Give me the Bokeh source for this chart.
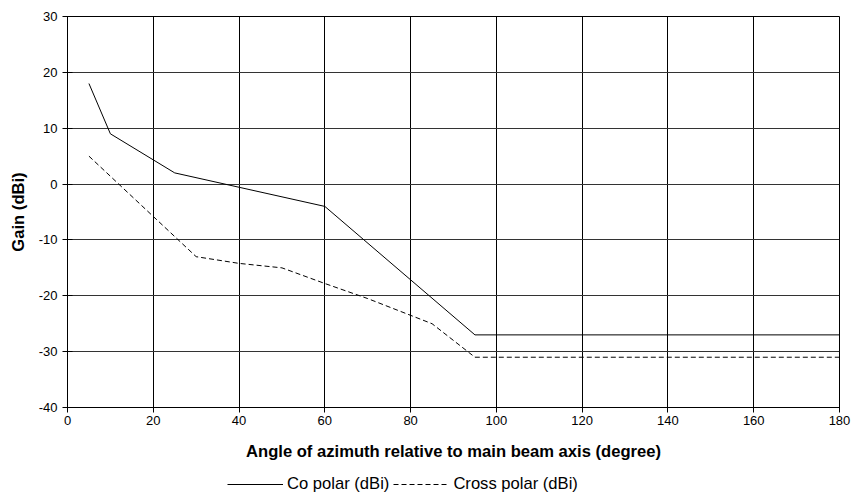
from bokeh.plotting import figure
from bokeh.layouts import column
from bokeh.models import Range1d, FixedTicker, Legend, LegendItem, PrintfTickFormatter
from bokeh.embed import file_html
from bokeh.resources import INLINE

# Data
co_angle = [5, 10, 25, 60, 95, 180]
co_gain = [18, 9, 2, -4, -27, -27]
cross_angle = [5, 30, 40, 50, 60, 70, 80, 85, 95, 180]
cross_gain = [5, -13, -14.2, -15, -17.8, -20.5, -23.5, -25, -31, -31]

x_ticks = [0, 20, 40, 60, 80, 100, 120, 140, 160, 180]
y_ticks = [-40, -30, -20, -10, 0, 10, 20, 30]

FONT = "Liberation Sans"
CO_STYLE = dict(line_color="black", line_width=1)
CROSS_STYLE = dict(line_color="black", line_width=1, line_dash="5 3")

p = figure(width=855, height=466, output_backend="svg", toolbar_location=None,
           x_range=Range1d(0, 180), y_range=Range1d(-40, 30),
           min_border_left=67, min_border_right=16, min_border_top=16, min_border_bottom=59)
p.background_fill_color = "white"
p.border_fill_color = "white"
p.outline_line_color = "black"
p.outline_line_width = 1

for ax in (p.xaxis[0], p.yaxis[0]):
    ax.major_label_text_font = FONT
    ax.major_label_text_font_size = "13px"
    ax.major_label_text_color = "black"
    ax.axis_label_text_font = FONT
    ax.axis_label_text_font_size = "16.6px"
    ax.axis_label_text_font_style = "bold"
    ax.axis_label_text_color = "black"
    ax.axis_line_color = "black"
    ax.major_tick_line_color = "black"
    ax.major_tick_in = 5
    ax.major_tick_out = 5
    ax.minor_tick_line_color = None
    ax.formatter = PrintfTickFormatter(format="%d")

p.xaxis[0].ticker = FixedTicker(ticks=x_ticks)
p.yaxis[0].ticker = FixedTicker(ticks=y_ticks)
p.xaxis[0].axis_label = "Angle of azimuth relative to main beam axis (degree)"
p.yaxis[0].axis_label = "Gain (dBi)"
p.xaxis[0].major_label_standoff = 3
p.xaxis[0].axis_label_standoff = 14
p.yaxis[0].major_label_standoff = 5
p.yaxis[0].axis_label_standoff = 8

p.xgrid[0].ticker = FixedTicker(ticks=x_ticks)
p.ygrid[0].ticker = FixedTicker(ticks=y_ticks)
p.xgrid[0].grid_line_color = "black"
p.ygrid[0].grid_line_color = "#333333"
p.xgrid[0].grid_line_width = 1
p.ygrid[0].grid_line_width = 1

p.line(co_angle, co_gain, **CO_STYLE)
p.line(cross_angle, cross_gain, **CROSS_STYLE)

# Legend strip below the chart (its own lines lie outside its visible range)
lg = figure(width=855, height=32, output_backend="svg", toolbar_location=None,
            x_axis_type=None, y_axis_type=None, min_border=0,
            x_range=Range1d(0, 1), y_range=Range1d(0, 1))
lg.outline_line_color = None
lg.grid.visible = False
lg.background_fill_color = "white"
lg.border_fill_color = "white"
r_co = lg.line(co_angle, co_gain, **CO_STYLE)
r_cross = lg.line(cross_angle, cross_gain, **CROSS_STYLE)

legend = Legend(items=[LegendItem(label="Co polar (dBi)", renderers=[r_co]),
                       LegendItem(label="Cross polar (dBi)", renderers=[r_cross])],
                orientation="horizontal", location=(160, 4),
                label_text_font=FONT, label_text_font_size="16.6px", label_text_color="black",
                glyph_width=56, label_standoff=4, spacing=4, padding=0, margin=0,
                border_line_color=None, background_fill_alpha=0)
lg.add_layout(legend, "center")

layout = column(p, lg, spacing=0)
open("out.html", "w").write(file_html(layout, INLINE))
